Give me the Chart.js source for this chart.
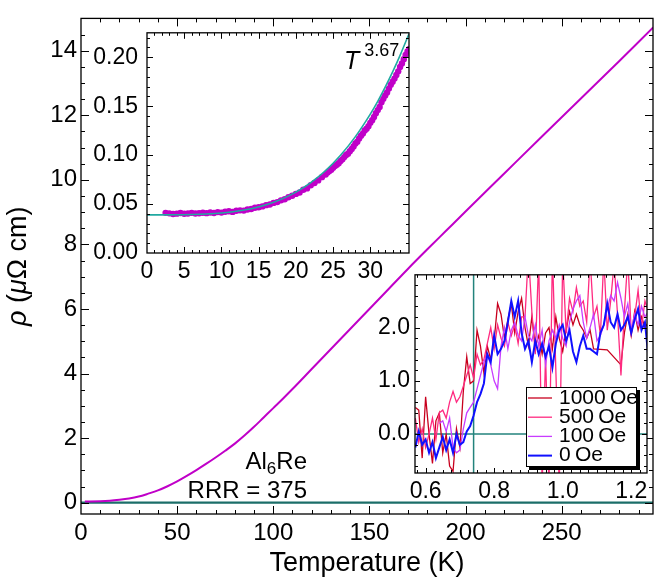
<!DOCTYPE html>
<html>
<head>
<meta charset="utf-8">
<script src="https://cdn.jsdelivr.net/npm/chart.js@4.4.1/dist/chart.umd.min.js"></script>
<style>
  body { margin: 0; background: #fff; }
  #wrap { position: relative; width: 654px; height: 582px; }
  canvas { position: absolute; }
</style>
</head>
<body>
<div id="wrap">
  <canvas id="main" width="654" height="582" style="left:0;top:0"></canvas>
  <canvas id="inset1" width="340" height="280" style="left:80px;top:10px"></canvas>
  <canvas id="inset2" width="294" height="250" style="left:360px;top:256px"></canvas>
</div>
<script>
// main curve: resistivity vs temperature
const mainT = [2, 10, 15, 20, 25, 30, 35, 40, 45, 50, 55, 60, 65, 70, 75, 80, 85, 90, 95, 100, 105,
  110, 120, 130, 140, 150, 160, 170, 180, 190, 200, 220, 240, 260, 280, 297.6, 300];
const mainRho = [0.04, 0.045, 0.06, 0.09, 0.13, 0.19, 0.28, 0.38, 0.51, 0.66, 0.83, 1.01, 1.20, 1.40, 1.61, 1.83, 2.08, 2.35, 2.64, 2.93, 3.22,
  3.52, 4.14, 4.76, 5.38, 6.00, 6.62, 7.24, 7.84, 8.43, 9.02, 10.19, 11.36, 12.52, 13.68, 14.72, 14.86];
const mainXTicks = [0, 50, 100, 150, 200, 250];
const mainYTicks = [0, 2, 4, 6, 8, 10, 12, 14];

// upper inset: low temperature data and T^3.67 fit
const lowT = [2.5, 3, 3.5, 4, 4.5, 5, 5.5, 6, 6.5, 7, 7.5, 8, 8.5, 9, 9.5, 10, 10.5, 11, 11.5, 12,
  12.5, 13, 13.5, 14, 14.5, 15, 15.5, 16, 16.5, 17, 17.5, 18, 18.5, 19, 19.5, 20, 20.5, 21, 21.5, 22,
  22.5, 23, 23.5, 24, 24.25, 24.5, 24.75, 25, 25.25, 25.5, 25.75, 26, 26.25, 26.5, 26.75, 27, 27.25, 27.5, 27.75,
  28, 28.25, 28.5, 28.75, 29, 29.25, 29.5, 29.75, 30, 30.25, 30.5, 30.75, 31, 31.25, 31.5, 31.75,
  32, 32.25, 32.5, 32.75, 33, 33.25, 33.5, 33.75, 34, 34.25, 34.5, 34.75, 35, 35.25];
const lowRho = [0.0410, 0.0405, 0.0398, 0.0402, 0.0408, 0.0401, 0.0404, 0.0410, 0.0403, 0.0406, 0.0412, 0.0407, 0.0414, 0.0409, 0.0418, 0.0413, 0.0421, 0.0426, 0.0420, 0.0431,
  0.0436, 0.0433, 0.0445, 0.0450, 0.0462, 0.0468, 0.0476, 0.0489, 0.0495, 0.0512, 0.0520, 0.0538, 0.0549, 0.0570, 0.0585, 0.0604, 0.0618, 0.0646, 0.0660, 0.0692,
  0.0716, 0.0742, 0.0775, 0.0801, 0.0822, 0.0838, 0.0851, 0.0870, 0.0889, 0.0902, 0.0918, 0.0941, 0.0957, 0.0980, 0.1001, 0.1015, 0.1040, 0.1062, 0.1088,
  0.1120, 0.1138, 0.1170, 0.1199, 0.1220, 0.1251, 0.1270, 0.1296, 0.1330, 0.1357, 0.1390, 0.1428, 0.1460, 0.1493, 0.1540, 0.1575,
  0.1610, 0.1641, 0.1680, 0.1719, 0.1750, 0.1782, 0.1820, 0.1856, 0.1900, 0.1937, 0.1980, 0.2024, 0.2060, 0.2085];
const fitT = [0, 2, 4, 6, 8, 10, 12, 14, 16, 18, 20, 22, 24, 26, 28, 30, 31, 32, 33, 34, 35.2];
const fitRho = [0.0390, 0.0390, 0.0391, 0.0393, 0.0398, 0.0408, 0.0426, 0.0453, 0.0492, 0.0548, 0.0622, 0.0720, 0.0843, 0.0999, 0.1189, 0.1419, 0.1550, 0.1694, 0.1850, 0.2019, 0.2240];
const lowXTicks = [0, 5, 10, 15, 20, 25, 30];
const lowYTicks = [0, 0.05, 0.10, 0.15, 0.20];

// lower inset: superconducting transition at several fields
const fieldLabels = ['1000 Oe', '500 Oe', '100 Oe', '0 Oe'];
const gridK = [0.57, 0.58, 0.59, 0.60, 0.61, 0.62, 0.63, 0.64, 0.65, 0.66, 0.67, 0.68, 0.69, 0.70, 0.71, 0.72, 0.73, 0.74, 0.75, 0.76,
  0.77, 0.78, 0.79, 0.80, 0.81, 0.82, 0.83, 0.84, 0.85, 0.86, 0.87, 0.88, 0.89, 0.90, 0.91, 0.92, 0.93, 0.94, 0.95, 0.96,
  0.97, 0.98, 0.99, 1.00, 1.01, 1.02, 1.03, 1.04, 1.05, 1.06, 1.07, 1.08, 1.09, 1.10, 1.11, 1.12, 1.13, 1.14, 1.15, 1.16,
  1.17, 1.18, 1.19, 1.20, 1.21, 1.22, 1.23, 1.24, 1.25];
const rho0Oe = [-0.25, 0.05, -0.2, -0.1, -0.35, -0.15, -0.45, -0.25, -0.05, -0.3, -0.1, -0.35, 0.0, -0.2, -0.15, 0.05, 0.15, 0.35, 0.6, 0.75,
  0.95, 1.5, 1.35, 1.85, 1.5, 1.6, 1.75, 2.1, 2.5, 2.2, 2.5, 1.9, 1.6, 1.75, 1.35, 1.75, 1.5, 1.7, 1.45, 1.65,
  1.25, 1.7, 1.95, 2.05, 1.75, 1.95, 1.55, 1.35, 1.65, 1.85, 1.6, 1.6, 1.55, 1.5, 1.9, 2.05, 2.45, 2.1, 2.0, 2.25,
  1.95, 2.05, 2.2, 1.9, 2.15, 2.35, 1.95, 2.1, 1.45];
const rho500Oe = [0.3, -0.15, 0.1, -0.25, 0.0, 0.3, -0.1, 0.4, 0.45, 0.3, 0.6, 0.8, 0.6, 0.7, 0.9, 1.1, 1.3, 1.05, 1.5, 1.3,
  1.4, 1.7, 2.0, 1.6, 2.05, 1.8, 1.65, 2.1, 1.85, 2.05, 1.7, 2.2, 2.2, 3.4, 2.3, 1.5, 3.3, -1.0, 1.5, -1.0,
  3.4, 1.2, -1.0, 3.3, 1.9, 2.55, 2.3, 2.75, 2.4, 2.5, 2.1, 3.3, 2.2, 2.4, 1.85, 3.3, 1.95, 2.5, 3.2, 2.25,
  1.1, 2.3, 3.3, 1.9, 2.2, 2.7, 2.0, 2.5, 2.3];
const k100Oe = [0.64, 0.65, 0.66, 0.67, 0.68, 0.69, 0.70, 0.71, 0.72, 0.73, 0.74, 0.75, 0.76, 0.77, 0.78, 0.79, 0.80, 0.81, 0.82, 0.83,
  0.84, 0.85, 0.86, 0.87, 0.88, 0.89, 0.90, 0.91, 0.92, 0.93, 0.94, 0.95, 0.96, 0.97, 0.98, 0.99, 1.00, 1.01, 1.02, 1.03,
  1.04, 1.05, 1.06, 1.07, 1.08, 1.09, 1.10, 1.11, 1.12, 1.13, 1.14, 1.15, 1.16, 1.17, 1.18, 1.19, 1.20, 1.21, 1.22, 1.23,
  1.24, 1.25];
const rho100Oe = [0.2, 0.25, 0.05, 0.3, -0.25, -0.35, -0.3, 0.1, 0.4, 0.5, 0.6, 0.85, 1.1, 1.35, 1.5, 1.3, 1.0, 0.85, 1.65, 2.0,
  1.6, 1.95, 2.1, 1.85, 1.75, 2.2, 1.85, 1.75, 2.05, 1.65, 1.95, 1.3, 1.75, 1.95, 1.8, 2.05, 1.8, 1.65, 2.1, 2.35,
  2.5, 2.6, 2.1, 1.8, 2.0, 2.25, 1.75, 1.85, 2.05, 2.35, 2.6, 2.5, 2.85, 2.55, 2.2, 2.45, 1.95, 2.25, 2.05, 2.4,
  2.2, 2.3];
const k1000Oe = [0.57, 0.58, 0.59, 0.60, 0.61, 0.62, 0.63, 0.64, 0.65, 0.66, 0.67, 0.68, 0.69, 0.70, 0.71, 0.72, 0.73, 0.74, 0.75, 0.76,
  0.77, 0.78, 0.79, 0.80, 0.81, 0.82, 0.83, 0.84, 0.85, 0.86, 0.87, 0.88, 0.89, 0.90, 0.91, 0.92, 0.93, 0.94, 0.95, 0.96,
  0.97, 0.98, 0.99, 1.00, 1.01, 1.02, 1.03, 1.04, 1.05, 1.06, 1.07, 1.08, 1.09, 1.13, 1.17, 1.18, 1.19, 1.20, 1.21, 1.22,
  1.23, 1.24, 1.25];
const rho1000Oe = [0.5, 0.45, -0.45, 0.7, 0.0, -0.55, 0.25, 0.4, -0.35, 0.0, -0.6, -0.7, 0.1, -0.25, 0.8, 1.45, 0.95, 1.0, 1.95, 1.65,
  1.15, 1.65, 1.4, 1.75, 2.45, 2.25, 1.8, 2.15, 2.45, 1.9, 2.3, 2.55, 2.0, 1.65, 2.2, 1.65, 1.85, 1.5, 1.9, 2.0,
  1.6, 2.2, 1.8, 1.55, 1.95, 2.3, 2.05, 2.25, 2.05, 1.95, 1.8, 1.95, 1.6, 1.58, 1.3, 1.9, 2.25, 1.85, 2.3, 1.95,
  2.2, 2.0, 2.1];
const tcK = 0.74;
const hiXTicks = [0.6, 0.8, 1.0, 1.2];
const hiYTicks = [0, 1, 2];

const FONT = '"Liberation Sans", Arial, Helvetica, sans-serif';
const pts = (xs, ys) => xs.map((x, i) => ({ x: x, y: ys[i] }));

// white plot area, frame and inward ticks on all four sides
const frameTicks = {
  id: 'frameTicks',
  beforeDatasetsDraw(chart, args, o) {
    const a = chart.chartArea;
    const ctx = chart.ctx;
    ctx.save();
    ctx.fillStyle = '#fff';
    ctx.fillRect(a.left, a.top, a.right - a.left, a.bottom - a.top);
    ctx.restore();
  },
  afterDatasetsDraw(chart, args, o) {
    const { ctx, chartArea: a, scales } = chart;
    ctx.save();
    ctx.strokeStyle = '#000';
    ctx.lineWidth = 1;
    const xs = scales.x, ys = scales.y;
    for (let v = Math.ceil(xs.min / o.xMinor) * o.xMinor; v <= xs.max + 1e-9; v += o.xMinor) {
      const px = Math.round(xs.getPixelForValue(v)) + 0.5;
      if (px < a.left + 1 || px > a.right - 1) continue;
      const major = Math.abs(v / o.xMajor - Math.round(v / o.xMajor)) < 1e-6;
      const len = major ? o.majorLen : o.minorLen;
      ctx.beginPath();
      ctx.moveTo(px, a.bottom); ctx.lineTo(px, a.bottom - len);
      ctx.moveTo(px, a.top); ctx.lineTo(px, a.top + len);
      ctx.stroke();
    }
    for (let v = Math.ceil(ys.min / o.yMinor) * o.yMinor; v <= ys.max + 1e-9; v += o.yMinor) {
      const py = Math.round(ys.getPixelForValue(v)) + 0.5;
      if (py < a.top + 1 || py > a.bottom - 1) continue;
      const major = Math.abs(v / o.yMajor - Math.round(v / o.yMajor)) < 1e-6;
      const len = major ? o.majorLen : o.minorLen;
      ctx.beginPath();
      ctx.moveTo(a.left, py); ctx.lineTo(a.left + len, py);
      ctx.moveTo(a.right, py); ctx.lineTo(a.right - len, py);
      ctx.stroke();
    }
    ctx.lineWidth = 1.3;
    ctx.strokeRect(a.left, a.top, a.right - a.left, a.bottom - a.top);
    ctx.restore();
  }
};

function drawParts(ctx, parts, x, y) {
  parts.forEach(p => {
    ctx.font = p.f;
    ctx.fillText(p.t, x, y + (p.dy || 0));
    x += ctx.measureText(p.t).width;
  });
}
function partsWidth(ctx, parts) {
  let w = 0;
  parts.forEach(p => { ctx.font = p.f; w += ctx.measureText(p.t).width; });
  return w;
}

const mainText = {
  id: 'mainText',
  afterDraw(chart) {
    const { ctx, chartArea: a } = chart;
    ctx.save();
    ctx.fillStyle = '#000';
    ctx.textBaseline = 'alphabetic';
    // x title
    ctx.font = '27px ' + FONT;
    ctx.textAlign = 'center';
    ctx.fillText('Temperature (K)', (a.left + a.right) / 2, a.bottom + 57);
    ctx.textAlign = 'left';
    // y title
    const yParts = [
      { t: 'ρ', f: 'italic 27px ' + FONT },
      { t: ' (', f: '27px ' + FONT },
      { t: 'μ', f: 'italic 27px ' + FONT },
      { t: 'Ω cm)', f: '27px ' + FONT }
    ];
    ctx.save();
    ctx.translate(26, (a.top + a.bottom) / 2);
    ctx.rotate(-Math.PI / 2);
    drawParts(ctx, yParts, -partsWidth(ctx, yParts) / 2, 0);
    ctx.restore();
    // sample label
    const sParts = [
      { t: 'Al', f: '24px ' + FONT },
      { t: '6', f: '17px ' + FONT, dy: 5 },
      { t: 'Re', f: '24px ' + FONT }
    ];
    drawParts(ctx, sParts, 307 - partsWidth(ctx, sParts), 469);
    ctx.font = '24px ' + FONT;
    ctx.textAlign = 'right';
    ctx.fillText('RRR = 375', 307, 498);
    ctx.restore();
  }
};

const lowText = {
  id: 'lowText',
  afterDraw(chart) {
    const { ctx, chartArea: a } = chart;
    ctx.save();
    ctx.fillStyle = '#000';
    drawParts(ctx, [
      { t: 'T', f: 'italic 25px ' + FONT },
      { t: ' 3.67', f: '18px ' + FONT, dy: -13 }
    ], a.right - 65, a.top + 36);
    ctx.restore();
  }
};

const fieldLegend = {
  id: 'fieldLegend',
  afterDatasetsDraw(chart) {
    const { ctx, chartArea: a } = chart;
    const w = 111, h = 80;
    const x0 = a.right - 10 - w, y0 = a.bottom - 6 - h;
    ctx.save();
    ctx.fillStyle = '#000';
    ctx.fillRect(x0 + 3, y0 + 3, w, h);
    ctx.fillStyle = '#fff';
    ctx.fillRect(x0, y0, w, h);
    ctx.strokeStyle = '#000';
    ctx.lineWidth = 1;
    ctx.strokeRect(x0 + 0.5, y0 + 0.5, w - 1, h - 1);
    ctx.font = '21px ' + FONT;
    ctx.textBaseline = 'middle';
    fieldLabels.forEach((lab, i) => {
      const ds = chart.data.datasets.find(d => d.label === lab);
      const yy = y0 + 11 + i * 19.2;
      ctx.strokeStyle = ds.borderColor;
      ctx.lineWidth = ds.borderWidth;
      ctx.beginPath();
      ctx.moveTo(x0 + 2, yy); ctx.lineTo(x0 + 26, yy);
      ctx.stroke();
      ctx.fillStyle = '#000';
      ctx.fillText(lab.replace(' ', '\u2009'), x0 + 33, yy);
    });
    ctx.restore();
  }
};

function axisOpts(min, max, tickVals, fmt, fontSize, pad, size, horizontal) {
  return {
    type: 'linear',
    min: min,
    max: max,
    grid: { display: false, drawTicks: false },
    border: { display: false },
    afterBuildTicks: s => { s.ticks = tickVals.map(v => ({ value: v })); },
    afterFit: s => { if (horizontal) s.height = size; else s.width = size; },
    ticks: {
      color: '#000',
      padding: pad,
      font: { family: FONT, size: fontSize },
      callback: v => fmt(v),
      maxRotation: 0,
      autoSkip: false
    }
  };
}

const baseOpts = {
  responsive: false,
  animation: false,
  devicePixelRatio: 1,
  plugins: { legend: { display: false }, tooltip: { enabled: false } }
};

new Chart(document.getElementById('main'), {
  type: 'line',
  data: {
    datasets: [
      { data: pts(mainT, mainRho), borderColor: '#c000c8', borderWidth: 2, pointRadius: 0, cubicInterpolationMode: 'monotone' },
      { data: pts([0, 300], [0, 0]), borderColor: '#1b6e69', borderWidth: 2.2, pointRadius: 0 }
    ]
  },
  options: Object.assign({}, baseOpts, {
    layout: { padding: { left: 0, top: 10, right: 1, bottom: 0 } },
    scales: {
      x: axisOpts(0, 297.5, mainXTicks, v => String(v), 24, 5, 68, true),
      y: axisOpts(-0.35, 15, mainYTicks, v => String(v), 24, 4, 81, false)
    },
    plugins: Object.assign({}, baseOpts.plugins, {
      frameTicks: { xMinor: 10, xMajor: 50, yMinor: 0.5, yMajor: 2, majorLen: 8, minorLen: 4 }
    })
  }),
  plugins: [frameTicks, mainText]
});

new Chart(document.getElementById('inset1'), {
  type: 'line',
  data: {
    datasets: [
      { data: pts(fitT, fitRho), borderColor: '#21a9a1', borderWidth: 1.6, pointRadius: 0, cubicInterpolationMode: 'monotone' },
      { data: pts(lowT, lowRho), showLine: false, pointRadius: 3.2, pointBorderWidth: 0, pointBackgroundColor: '#c000c8', borderColor: '#c000c8' }
    ]
  },
  options: Object.assign({}, baseOpts, {
    layout: { padding: { left: 0, top: 7, right: 11, bottom: 0 } },
    scales: {
      x: axisOpts(0, 35.2, lowXTicks, v => String(v), 23, 5, 37, true),
      y: axisOpts(0, 0.225, lowYTicks, v => v.toFixed(2), 23, 9, 67, false)
    },
    plugins: Object.assign({}, baseOpts.plugins, {
      frameTicks: { xMinor: 1, xMajor: 5, yMinor: 0.01, yMajor: 0.05, majorLen: 6, minorLen: 3 }
    })
  }),
  plugins: [frameTicks, lowText]
});

new Chart(document.getElementById('inset2'), {
  type: 'line',
  data: {
    datasets: [
      { label: '0 Oe', data: pts(gridK, rho0Oe), borderColor: '#1010ff', borderWidth: 2, pointRadius: 0 },
      { label: '100 Oe', data: pts(k100Oe, rho100Oe), borderColor: '#c83cff', borderWidth: 1.3, pointRadius: 0 },
      { label: '500 Oe', data: pts(gridK, rho500Oe), borderColor: '#ff2a80', borderWidth: 1.3, pointRadius: 0 },
      { label: '1000 Oe', data: pts(k1000Oe, rho1000Oe), borderColor: '#c8001e', borderWidth: 1.3, pointRadius: 0 },
      { label: 'zero', data: pts([0.5, 1.3], [0, 0]), borderColor: '#23837c', borderWidth: 1.5, pointRadius: 0 },
      { label: 'Tc', data: pts([tcK, tcK], [-1, 4]), borderColor: '#23837c', borderWidth: 1.5, pointRadius: 0 }
    ]
  },
  options: Object.assign({}, baseOpts, {
    layout: { padding: { left: 0, top: 10, right: 7, bottom: 0 } },
    scales: {
      x: axisOpts(0.569, 1.246, hiXTicks, v => v.toFixed(1), 23, 5, 33, true),
      y: axisOpts(-0.73, 2.99, hiYTicks, v => v.toFixed(1), 23, 5, 55, false)
    },
    plugins: Object.assign({}, baseOpts.plugins, {
      frameTicks: { xMinor: 0.025, xMajor: 0.2, yMinor: 0.2, yMajor: 1, majorLen: 5, minorLen: 3 }
    })
  }),
  plugins: [frameTicks, fieldLegend]
});
</script>
</body>
</html>
